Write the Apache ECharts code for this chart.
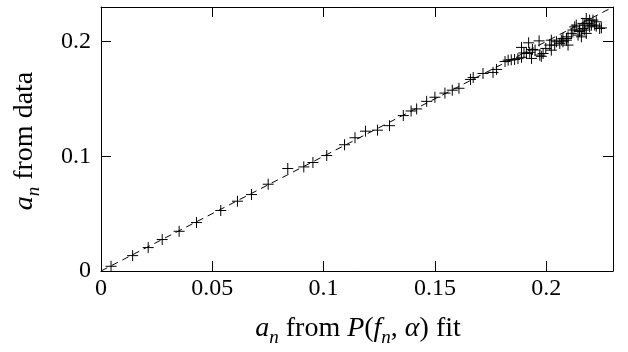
<!DOCTYPE html>
<html>
<head>
<meta charset="utf-8">
<script src="https://cdn.jsdelivr.net/npm/echarts@6/dist/echarts.min.js"></script>
<style>
html,body{margin:0;padding:0;background:#fff;}
#c{width:628px;height:352px;}
</style>
</head>
<body>
<div id="c"></div>
<script>
// a_n from P(f_n, alpha) fit
const xFit = [
  0.0045, 0.0142, 0.0212, 0.0275, 0.0351, 0.0429, 0.0538, 0.0613, 0.0676, 0.0751,
  0.0839, 0.0911, 0.0952, 0.1014, 0.1094, 0.1141, 0.1188, 0.1242, 0.1296, 0.1358,
  0.1393, 0.1418, 0.1463, 0.1500, 0.1545, 0.1578, 0.1608, 0.1660, 0.1672, 0.1716,
  0.1761, 0.1777, 0.1815, 0.1829, 0.1843, 0.1858, 0.1873, 0.1889, 0.1889, 0.1900,
  0.1911, 0.1921, 0.1926, 0.1934, 0.1938, 0.1950, 0.1968, 0.1971, 0.1978, 0.1986,
  0.1998, 0.2016, 0.2023, 0.2023, 0.2038, 0.2046, 0.2061, 0.2068, 0.2075, 0.2075,
  0.2091, 0.2091, 0.2098, 0.2098, 0.2113, 0.2120, 0.2128, 0.2135, 0.2143, 0.2150,
  0.2150, 0.2158, 0.2165, 0.2165, 0.2173, 0.2173, 0.2180, 0.2180, 0.2188, 0.2195,
  0.2195, 0.2203, 0.2210, 0.2218, 0.2225, 0.2225, 0.2240, 0.2248
];
// a_n from data
const yData = [
  0.0041, 0.0134, 0.0204, 0.0274, 0.0346, 0.0422, 0.0527, 0.0608, 0.0666, 0.0756,
  0.0893, 0.0907, 0.0945, 0.1006, 0.1100, 0.1161, 0.1218, 0.1227, 0.1266, 0.1354,
  0.1394, 0.1412, 0.1478, 0.1514, 0.1550, 0.1575, 0.1592, 0.1669, 0.1686, 0.1721,
  0.1730, 0.1756, 0.1825, 0.1837, 0.1840, 0.1843, 0.1850, 0.1862, 0.1948, 0.1900,
  0.1895, 0.1988, 0.1905, 0.1852, 0.1930, 0.1925, 0.2005, 0.1881, 0.1870, 0.1895,
  0.1939, 0.1968, 0.1924, 0.2011, 0.1968, 0.1997, 0.1983, 0.2011, 0.1997, 0.2026,
  0.2011, 0.2026, 0.1968, 0.2040, 0.2070, 0.2099, 0.2127, 0.2142, 0.2055, 0.2087,
  0.2099, 0.2040, 0.2113, 0.2157, 0.2099, 0.2142, 0.2070, 0.2200, 0.2157, 0.2127,
  0.2186, 0.2142, 0.2186, 0.2142, 0.2133, 0.2171, 0.2113, 0.2118
];
// reference line y = x
const lineX = [0, 0.228];
const lineY = [0, 0.228];

const xTicks = [0, 0.05, 0.1, 0.15, 0.2];
const xTickLabels = ['0', '0.05', '0.1', '0.15', '0.2'];
const yTicks = [0, 0.1, 0.2];
const yTickLabels = ['0', '0.1', '0.2'];

const xLabel = '{i|a}{s|n}{r| from }{i|P}{r|(}{i|f}{s|n}{r|, }{i|α}{r|) fit}';
const yLabel = '{i|a}{s|n}{r| from data}';

function fmt(ticks, labels) {
  return function (v) {
    const i = ticks.findIndex(t => Math.abs(t - v) < 1e-9);
    return i >= 0 ? labels[i] : '';
  };
}

const FONT = '"Liberation Serif", "Times New Roman", serif';
const rich = {
  i: { fontFamily: FONT, fontSize: 28, fontStyle: 'italic', lineHeight: 32, verticalAlign: 'top', fill: '#000' },
  r: { fontFamily: FONT, fontSize: 28, lineHeight: 32, verticalAlign: 'top', fill: '#000' },
  s: { fontFamily: FONT, fontSize: 19, fontStyle: 'italic', lineHeight: 19, verticalAlign: 'bottom', fill: '#000' }
};

const axisCommon = {
  type: 'value',
  min: 0,
  max: 0.23,
  splitLine: { show: false },
  axisLine: { show: true, onZero: false, lineStyle: { color: '#000', width: 1 } },
  axisTick: { show: true, inside: true, length: 10, lineStyle: { color: '#000', width: 1 } }
};

const chart = echarts.init(document.getElementById('c'), null, { renderer: 'canvas' });
chart.setOption({
  animation: false,
  backgroundColor: '#fff',
  grid: { left: 101, right: 15, top: 7, bottom: 81, containLabel: false },
  xAxis: [
    Object.assign({}, axisCommon, {
      position: 'bottom', interval: 0.05,
      axisLabel: { show: true, margin: 6, color: '#000', fontFamily: FONT, fontSize: 24, formatter: fmt(xTicks, xTickLabels) }
    }),
    Object.assign({}, axisCommon, {
      position: 'top', interval: 0.05,
      axisLabel: { show: false }
    })
  ],
  yAxis: [
    Object.assign({}, axisCommon, {
      position: 'left', interval: 0.1,
      axisLabel: { show: true, margin: 10, color: '#000', fontFamily: FONT, fontSize: 24, formatter: fmt(yTicks, yTickLabels) }
    }),
    Object.assign({}, axisCommon, {
      position: 'right', interval: 0.1,
      axisLabel: { show: false }
    })
  ],
  series: [
    {
      type: 'line',
      data: lineX.map((x, i) => [x, lineY[i]]),
      symbol: 'none',
      lineStyle: { color: '#000', width: 1, type: [7, 5] },
      silent: true,
      z: 1
    },
    {
      type: 'scatter',
      data: xFit.map((x, i) => [x, yData[i]]),
      symbol: 'path://M0,5L10,5M5,0L5,10',
      symbolSize: 11,
      itemStyle: { color: 'rgba(0,0,0,0)', borderColor: '#000', borderWidth: 1, opacity: 1 },
      z: 2
    }
  ],
  graphic: [
    {
      type: 'text', x: 358, y: 331,
      style: { text: xLabel, rich: rich, align: 'center', verticalAlign: 'middle', fill: '#000' }
    },
    {
      type: 'text', x: 27, y: 141, rotation: Math.PI / 2,
      style: { text: yLabel, rich: rich, align: 'center', verticalAlign: 'middle', fill: '#000' }
    }
  ]
});
</script>
</body>
</html>
